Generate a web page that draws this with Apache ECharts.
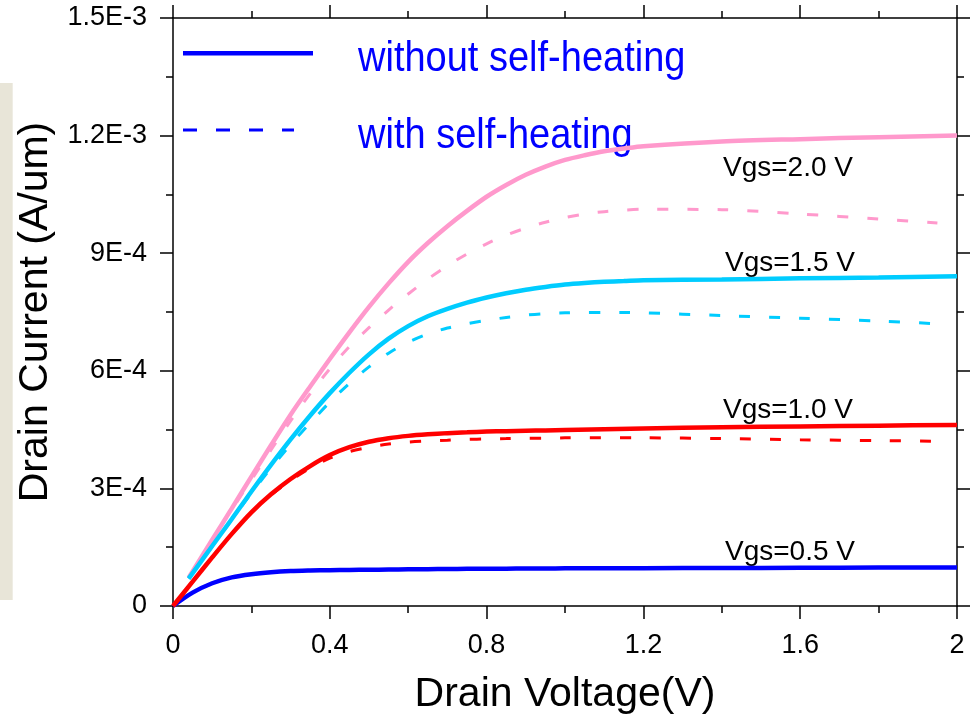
<!DOCTYPE html>
<html>
<head>
<meta charset="utf-8">
<script src="https://cdn.jsdelivr.net/npm/echarts@6.0.0/dist/echarts.min.js"></script>
<style>
  html, body { margin: 0; padding: 0; background: #ffffff; }
  #chart { width: 979px; height: 720px; }
</style>
</head>
<body>
<div id="chart"></div>
<script>
// Drain current in units of 1E-4 A/um, drain voltage in V.

// Drain-voltage sampling for Vgs = 0.5 V and 1.0 V (dashed: with self-heating)
const vdLow   = [0, 0.05, 0.1, 0.15, 0.2, 0.25, 0.3, 0.35, 0.4, 0.45, 0.5, 0.55, 0.6, 0.65, 0.7, 0.75, 0.8, 0.85, 0.9, 0.95, 1.0, 1.2, 1.4, 1.6, 1.8, 2.0];
const vdLowSH = [0, 0.05, 0.1, 0.15, 0.2, 0.25, 0.3, 0.35, 0.4, 0.45, 0.5, 0.55, 0.6, 0.65, 0.7, 0.75, 0.8, 0.85, 0.9, 0.95, 1.0, 1.2, 1.4, 1.6, 1.8, 1.95];

// Drain-voltage sampling for Vgs = 1.5 V and 2.0 V
const vdHigh   = [0.04, 0.1, 0.15, 0.2, 0.25, 0.3, 0.35, 0.4, 0.45, 0.5, 0.55, 0.6, 0.65, 0.7, 0.75, 0.8, 0.85, 0.9, 0.95, 1.0, 1.05, 1.1, 1.15, 1.2, 1.4, 1.6, 1.8, 2.0];
const vdHighSH = [0.04, 0.1, 0.15, 0.2, 0.25, 0.3, 0.35, 0.4, 0.45, 0.5, 0.55, 0.6, 0.65, 0.7, 0.75, 0.8, 0.85, 0.9, 0.95, 1.0, 1.05, 1.1, 1.15, 1.2, 1.4, 1.6, 1.8, 1.95];

// Vgs = 0.5 V
const idVgs05 = [0, 0.34, 0.58, 0.73, 0.81, 0.86, 0.89, 0.905, 0.915, 0.92, 0.925, 0.93, 0.935, 0.94, 0.945, 0.948, 0.95, 0.952, 0.955, 0.957, 0.96, 0.965, 0.97, 0.975, 0.98, 0.985];

// Vgs = 1.0 V
const idVgs10   = [0, 0.62, 1.24, 1.84, 2.39, 2.85, 3.24, 3.57, 3.85, 4.05, 4.19, 4.28, 4.34, 4.38, 4.41, 4.43, 4.45, 4.46, 4.47, 4.48, 4.49, 4.53, 4.56, 4.58, 4.6, 4.62];
const idVgs10SH = [0, 0.62, 1.24, 1.84, 2.38, 2.83, 3.2, 3.52, 3.77, 3.94, 4.05, 4.13, 4.18, 4.21, 4.23, 4.25, 4.26, 4.27, 4.28, 4.28, 4.29, 4.29, 4.27, 4.24, 4.22, 4.2];

// Vgs = 1.5 V
const idVgs15   = [0.70, 1.53, 2.22, 2.92, 3.6, 4.25, 4.86, 5.43, 5.95, 6.42, 6.82, 7.14, 7.39, 7.58, 7.74, 7.87, 7.98, 8.07, 8.14, 8.2, 8.24, 8.27, 8.29, 8.31, 8.33, 8.36, 8.38, 8.41];
const idVgs15SH = [0.70, 1.52, 2.2, 2.88, 3.52, 4.12, 4.67, 5.2, 5.68, 6.1, 6.45, 6.73, 6.94, 7.09, 7.2, 7.29, 7.36, 7.42, 7.46, 7.48, 7.49, 7.49, 7.49, 7.48, 7.41, 7.34, 7.27, 7.2];

// Vgs = 2.0 V
const idVgs20   = [0.72, 1.69, 2.49, 3.3, 4.1, 4.88, 5.6, 6.3, 6.98, 7.63, 8.23, 8.78, 9.26, 9.69, 10.08, 10.44, 10.74, 11.0, 11.21, 11.38, 11.5, 11.6, 11.67, 11.73, 11.85, 11.91, 11.96, 12.0];
const idVgs20SH = [0.72, 1.68, 2.46, 3.22, 3.98, 4.72, 5.42, 6.05, 6.62, 7.1, 7.55, 7.96, 8.34, 8.68, 8.98, 9.24, 9.46, 9.64, 9.79, 9.91, 10.0, 10.06, 10.1, 10.12, 10.11, 10.0, 9.87, 9.77];

const xTickLabels = ['0', '0.4', '0.8', '1.2', '1.6', '2'];
const yTickLabels = ['0', '3E-4', '6E-4', '9E-4', '1.2E-3', '1.5E-3'];
const legendNames = ['without self-heating', 'with self-heating'];
const curveLabels = ['Vgs=2.0 V', 'Vgs=1.5 V', 'Vgs=1.0 V', 'Vgs=0.5 V'];

const FONT = '"Liberation Sans", Arial, Helvetica, sans-serif';
const PINK = '#ff99cc', CYAN = '#00ccff', RED = '#ff0000', BLUE = '#0000ff';
const SOLID_W = 4.5, DASH_W = 3, CURVE_DASH = [11, 19];

function pairs(xs, ys) { return xs.map((x, i) => [x, ys[i]]); }

function curve(name, xs, ys, color, dashed) {
  return {
    type: 'line', name: name, data: pairs(xs, ys),
    showSymbol: false, symbol: 'none', smooth: 0.3,
    color: color,
    lineStyle: { color: color, width: dashed ? DASH_W : SOLID_W, type: dashed ? CURVE_DASH : 'solid', cap: 'butt' },
    emphasis: { disabled: true }, silent: true, z: dashed ? 2 : 3
  };
}

const axisLineStyle = { color: '#000', width: 1.5 };

function xAxisDef(pos, withLabels) {
  return {
    type: 'value', position: pos, min: 0, max: 2, interval: 0.4,
    axisLine: { show: true, onZero: false, lineStyle: axisLineStyle },
    axisTick: { show: true, inside: false, length: 13, lineStyle: axisLineStyle },
    minorTick: { show: true, splitNumber: 2, length: 7, lineStyle: axisLineStyle },
    splitLine: { show: false }, minorSplitLine: { show: false },
    axisLabel: {
      show: withLabels, fontSize: 27, color: '#000', fontFamily: FONT, margin: 26,
      formatter: v => xTickLabels[Math.round(v / 0.4)]
    },
    name: withLabels ? 'Drain Voltage(V)' : '',
    nameLocation: 'middle', nameGap: 68,
    nameTextStyle: { fontSize: 41, color: '#000', fontFamily: FONT }
  };
}

function yAxisDef(pos, withLabels) {
  return {
    type: 'value', position: pos, min: 0, max: 15, interval: 3,
    axisLine: { show: true, onZero: false, lineStyle: axisLineStyle },
    axisTick: { show: true, inside: false, length: 13, lineStyle: axisLineStyle },
    minorTick: { show: true, splitNumber: 2, length: 7, lineStyle: axisLineStyle },
    splitLine: { show: false }, minorSplitLine: { show: false },
    axisLabel: {
      show: withLabels, fontSize: 27, color: '#000', fontFamily: FONT, margin: 26,
      formatter: v => yTickLabels[Math.round(v / 3)]
    },
    name: withLabels ? 'Drain Current (A/um)' : '',
    nameLocation: 'middle', nameGap: 108,
    nameTextStyle: { fontSize: 41, color: '#000', fontFamily: FONT }
  };
}

// key box: sample line + caption for each line style
function legendKey(y, text, dashed) {
  return [
    { type: 'line', silent: true,
      shape: { x1: 183, y1: y, x2: dashed ? 294 : 313, y2: y },
      style: { stroke: BLUE, lineWidth: dashed ? DASH_W : SOLID_W, lineDash: dashed ? [14, 19] : null, lineCap: 'butt' } },
    { type: 'text', silent: true, x: 358, y: y + 6, scaleY: 1.12,
      style: { text: text, font: '38px ' + FONT, fill: BLUE, verticalAlign: 'middle' } }
  ];
}

function curveLabel(x, y, text) {
  return { type: 'text', silent: true, x: x, y: y,
    style: { text: text, font: '28px ' + FONT, fill: '#000', verticalAlign: 'middle' } };
}

const chart = echarts.init(document.getElementById('chart'), null, { renderer: 'canvas' });

const option = {
  animation: false,
  backgroundColor: '#ffffff',
  textStyle: { fontFamily: FONT },
  grid: { left: 173, right: 22, top: 18, bottom: 113, containLabel: false },
  xAxis: [xAxisDef('bottom', true), xAxisDef('top', false)],
  yAxis: [yAxisDef('left', true), yAxisDef('right', false)],
  graphic: [
    { type: 'rect', left: 0, top: 83, silent: true, shape: { width: 12.7, height: 517 }, style: { fill: '#e8e5d8' } },
    ...legendKey(53.3, legendNames[0], false),
    ...legendKey(130, legendNames[1], true),
    curveLabel(723, 168.6, curveLabels[0]),
    curveLabel(725, 263.6, curveLabels[1]),
    curveLabel(723, 410.3, curveLabels[2]),
    curveLabel(725, 552, curveLabels[3])
  ],
  series: [
    curve('Vgs=0.5 V', vdLow, idVgs05, BLUE, false),
    curve('Vgs=2.0 V, with self-heating', vdHighSH, idVgs20SH, PINK, true),
    curve('Vgs=2.0 V', vdHigh, idVgs20, PINK, false),
    curve('Vgs=1.5 V, with self-heating', vdHighSH, idVgs15SH, CYAN, true),
    curve('Vgs=1.5 V', vdHigh, idVgs15, CYAN, false),
    curve('Vgs=1.0 V, with self-heating', vdLowSH, idVgs10SH, RED, true),
    curve('Vgs=1.0 V', vdLow, idVgs10, RED, false)
  ]
};

chart.setOption(option);
</script>
</body>
</html>
